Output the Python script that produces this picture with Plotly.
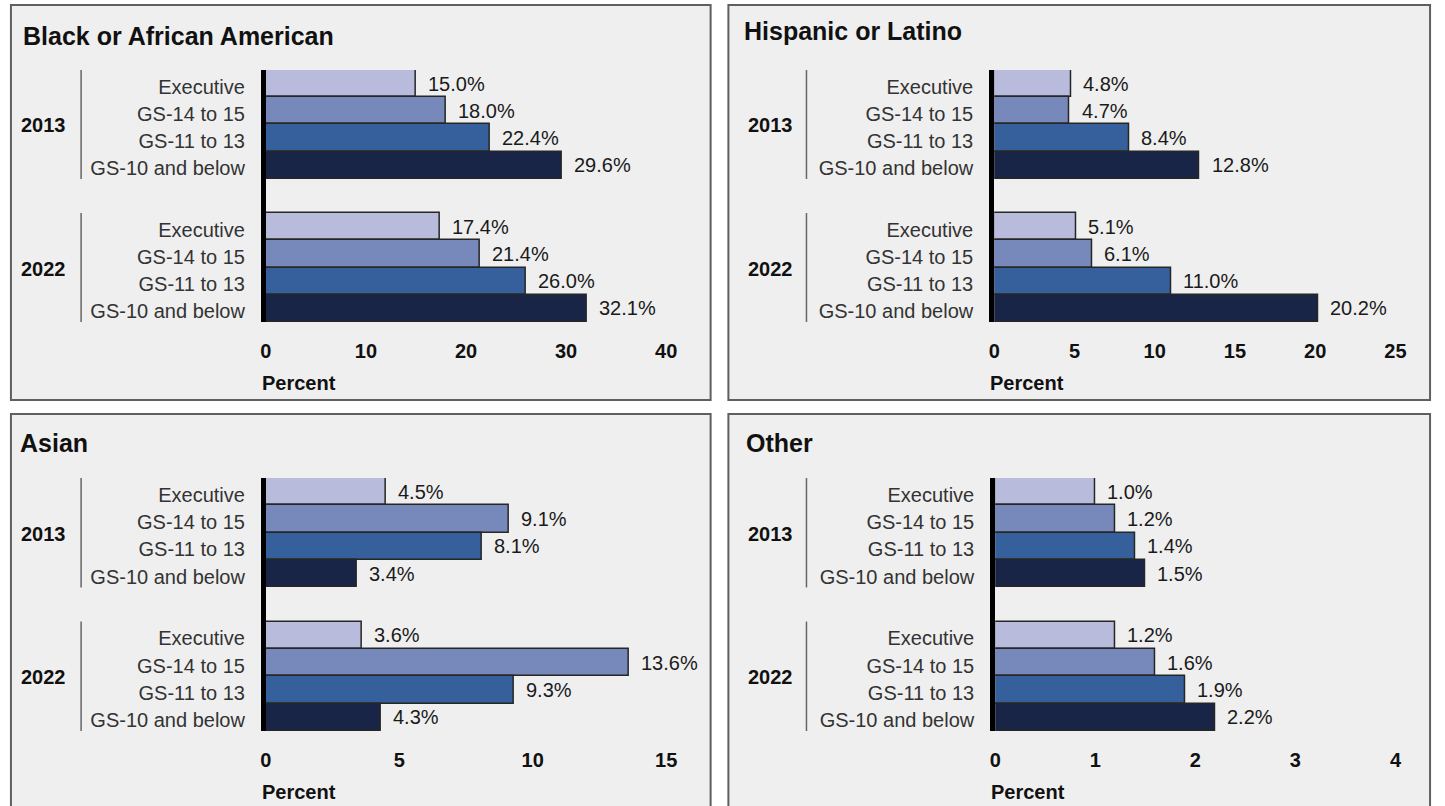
import plotly.graph_objects as go

# Grade levels (top to bottom within each year group) and years
grades = ["Executive", "GS-14 to 15", "GS-11 to 13", "GS-10 and below"]
years = ["2013", "2022"]

# Share of each grade level, by race/ethnicity and year (percent)
black_2013 = [15.0, 18.0, 22.4, 29.6]
black_2022 = [17.4, 21.4, 26.0, 32.1]
hispanic_2013 = [4.8, 4.7, 8.4, 12.8]
hispanic_2022 = [5.1, 6.1, 11.0, 20.2]
asian_2013 = [4.5, 9.1, 8.1, 3.4]
asian_2022 = [3.6, 13.6, 9.3, 4.3]
other_2013 = [1.0, 1.2, 1.4, 1.5]
other_2022 = [1.2, 1.6, 1.9, 2.2]

# Axis ticks per panel
black_ticks = [0, 10, 20, 30, 40]
hispanic_ticks = [0, 5, 10, 15, 20, 25]
asian_ticks = [0, 5, 10, 15]
other_ticks = [0, 1, 2, 3, 4]

grade_colors = ["#b8bbdc", "#7789ba", "#35609b", "#182546"]

W, H = 1445, 806
FONT = "Liberation Sans, Arial, sans-serif"
GROUP_OFFSET = 5.25  # row position where the second year's group starts


def px_x(x):
    return x / W


def px_y(y):
    return 1 - y / H


# layout of each panel in pixels
panels = [
    dict(title="Black or African American", data=[black_2013, black_2022],
         ticks=black_ticks, box=(5, 5, 713, 400), xdom=(263, 668), ydom=(70, 322),
         title_xy=(15, 36), year_x=63, bracket_x=76),
    dict(title="Hispanic or Latino", data=[hispanic_2013, hispanic_2022],
         ticks=hispanic_ticks, box=(731, 5, 1441, 400), xdom=(1000, 1406),
         ydom=(70, 322), title_xy=(745, 31), year_x=798, bracket_x=810),
    dict(title="Asian", data=[asian_2013, asian_2022], ticks=asian_ticks,
         box=(5, 414, 713, 830), xdom=(263, 668), ydom=(478, 731),
         title_xy=(12, 443), year_x=63, bracket_x=76),
    dict(title="Other", data=[other_2013, other_2022], ticks=other_ticks,
         box=(731, 414, 1441, 830), xdom=(1001, 1406), ydom=(478, 731),
         title_xy=(747, 443), year_x=798, bracket_x=810),
]

fig = go.Figure()
shapes = []
annotations = []

for k, p in enumerate(panels):
    n = k + 1
    xa = "x" if n == 1 else f"x{n}"
    ya = "y" if n == 1 else f"y{n}"
    xkey = "xaxis" if n == 1 else f"xaxis{n}"
    ykey = "yaxis" if n == 1 else f"yaxis{n}"
    ticks = p["ticks"]
    xdom, ydom = p["xdom"], p["ydom"]

    values, positions, colors, labels = [], [], [], []
    for g, vals in enumerate(p["data"]):
        for i, v in enumerate(vals):
            values.append(v)
            positions.append(g * GROUP_OFFSET + i)
            colors.append(grade_colors[i])
            labels.append(grades[i])

    fig.add_trace(go.Bar(
        x=values, y=positions, orientation="h", width=1,
        marker=dict(color=colors, line=dict(color="#262626", width=1.5)),
        xaxis=xa, yaxis=ya, showlegend=False, hoverinfo="x+text",
        hovertext=labels,
    ))

    # panel background and border
    l, t, r, b = p["box"]
    shapes.append(dict(type="rect", xref="paper", yref="paper", layer="below",
                       x0=px_x(l), x1=px_x(r), y0=px_y(b), y1=px_y(t),
                       fillcolor="#efefef", line=dict(color="#5f5f5f", width=2)))

    fig.update_layout({
        xkey: dict(domain=[px_x(xdom[0]), px_x(xdom[1])], anchor=ya,
                   range=[0, ticks[-1]], tickvals=ticks, showgrid=False,
                   zeroline=False, showline=False, ticks="outside", ticklen=11,
                   tickcolor="rgba(0,0,0,0)", fixedrange=True,
                   tickfont=dict(family=FONT, size=20, color="#111111",
                                 weight="bold")),
        ykey: dict(domain=[px_y(ydom[1]), px_y(ydom[0])], anchor=xa,
                   range=[GROUP_OFFSET + 3.5, -0.5], tickvals=positions,
                   ticktext=labels, showgrid=False, zeroline=False,
                   showline=True, linecolor="#000000", linewidth=5,
                   ticks="outside", ticklen=12, tickcolor="rgba(0,0,0,0)",
                   ticklabelshift=-3, fixedrange=True,
                   tickfont=dict(family=FONT, size=20, color="#333333")),
    })

    # value labels next to each bar
    for v, pos in zip(values, positions):
        annotations.append(dict(x=v, y=pos, xref=xa, yref=ya, text=f"{v:.1f}%",
                                xanchor="left", yanchor="middle", xshift=10,
                                showarrow=False,
                                font=dict(family=FONT, size=20, color="#1a1a1a")))

    # year group labels with a bracket line
    for g, yr in enumerate(years):
        y0 = g * GROUP_OFFSET - 0.5
        y1 = g * GROUP_OFFSET + 3.5
        shapes.append(dict(type="line", xref="paper", yref=ya,
                           x0=px_x(p["bracket_x"]), x1=px_x(p["bracket_x"]),
                           y0=y0, y1=y1, line=dict(color="#666666", width=1.5)))
        annotations.append(dict(x=px_x(p["year_x"]), y=g * GROUP_OFFSET + 1.5,
                                xref="paper", yref=ya, text=yr, showarrow=False,
                                xanchor="right", yanchor="middle", yshift=-1,
                                font=dict(family=FONT, size=20, color="#111111",
                                          weight="bold")))

    # panel title
    tx, ty = p["title_xy"]
    annotations.append(dict(x=px_x(tx), y=px_y(ty), xref="paper", yref="paper",
                            text=p["title"], showarrow=False,
                            xanchor="left", yanchor="middle",
                            font=dict(family=FONT, size=25, color="#111111",
                                      weight="bold")))

    # axis title
    annotations.append(dict(x=px_x(xdom[0] - 6), y=px_y(ydom[1] + 61), xref="paper",
                            yref="paper", text="Percent", showarrow=False,
                            xanchor="left", yanchor="middle",
                            font=dict(family=FONT, size=20, color="#111111",
                                      weight="bold")))

fig.update_layout(
    width=W, height=H,
    autosize=False,
    margin=dict(l=0, r=0, t=0, b=0),
    paper_bgcolor="#ffffff",
    plot_bgcolor="rgba(0,0,0,0)",
    shapes=shapes,
    annotations=annotations,
    bargap=0,
    font=dict(family=FONT),
)

# place the figure flush with the page corner
page_fit = (
    "document.documentElement.style.overflow='hidden';"
    "document.body.style.margin='0';"
    "document.body.style.overflow='hidden';"
)

fig.write_html("out.html", config={"responsive": False}, post_script=page_fit)
